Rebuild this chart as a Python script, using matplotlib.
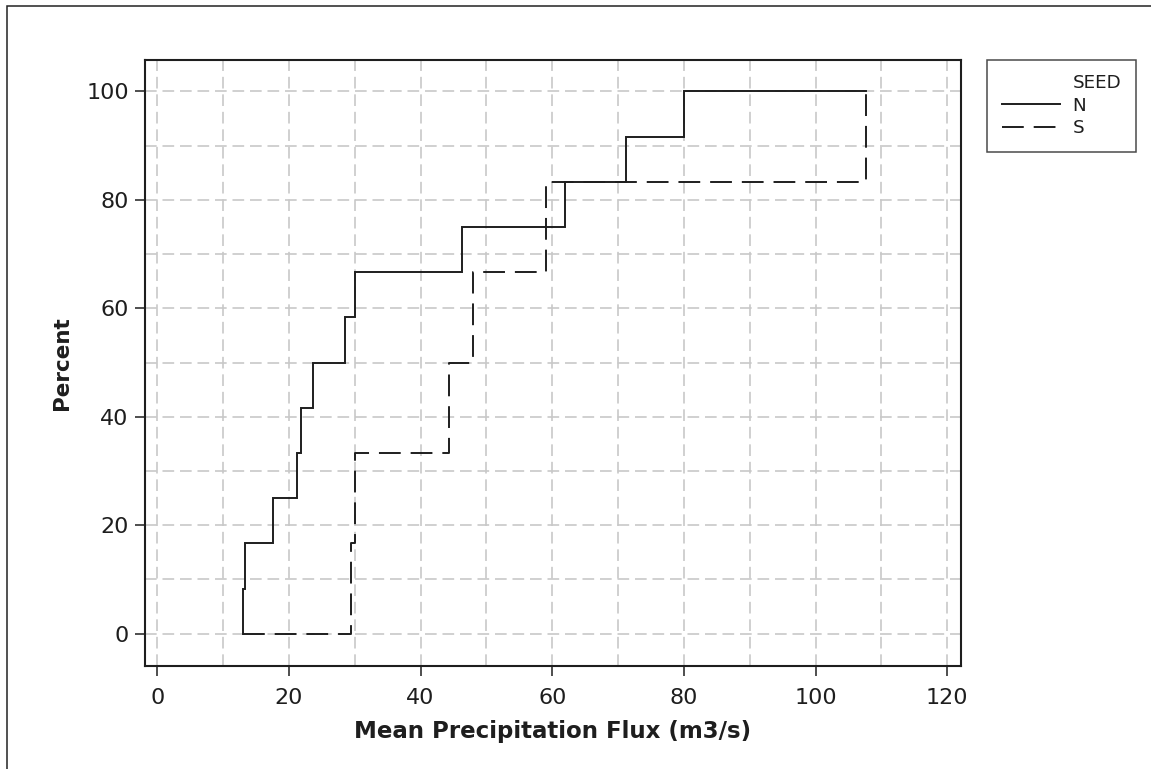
import matplotlib
matplotlib.use("Agg")
import matplotlib.pyplot as plt
from matplotlib.lines import Line2D
from matplotlib.patches import Rectangle
from matplotlib.ticker import MultipleLocator

# ---- data ----
group_names = ["N", "S"]
n_flux = [13.05, 13.35, 17.6, 21.2, 21.8, 23.7, 28.5, 30.1, 46.3, 61.9, 71.2, 80.0]
s_flux = [29.4, 30.1, 44.3, 48.0, 59.1, 107.6]
x_ticks = [0, 20, 40, 60, 80, 100, 120]
y_ticks = [0, 20, 40, 60, 80, 100]
x_label = "Mean Precipitation Flux (m3/s)"
y_label = "Percent"
legend_title = "SEED"

plt.rcParams['font.family'] = ['DejaVu Sans']

W, H = 1151, 769
fig = plt.figure(figsize=(W / 100, H / 100), dpi=100)

# outer frame (partially cropped in the reference)
fig.patches.append(Rectangle((7 / W, -0.1), 1.2, (H - 6) / H + 0.1,
                             transform=fig.transFigure, fill=False,
                             edgecolor='#222222', linewidth=1.1))

ax_l, ax_r, ax_t, ax_b = 145, 961, 60, 665.7
ax = fig.add_axes([ax_l / W, (H - ax_b) / H, (ax_r - ax_l) / W, (ax_b - ax_t) / H])

lo = min(min(n_flux), min(s_flux))
hi = max(max(n_flux), max(s_flux))


def ecdf_path(vals):
    v = sorted(vals)
    n = len(v)
    xs, ys = [lo], [0.0]
    for i, xv in enumerate(v):
        xs += [xv, xv]
        ys += [100.0 * i / n, 100.0 * (i + 1) / n]
    xs.append(hi)
    ys.append(100.0)
    return xs, ys


col = '#1e1e1e'
lw = 1.4
dash = (0, (11.2, 5.1))
xn, yn = ecdf_path(n_flux)
xs_, ys_ = ecdf_path(s_flux)
ax.plot(xn, yn, color=col, lw=lw, solid_joinstyle='miter')
ax.plot(xs_, ys_, color=col, lw=lw, linestyle=dash)

ax.set_xlim(-1.87, 122.1)
ax.set_ylim(-5.9, 105.8)
ax.set_xticks(x_ticks)
ax.set_yticks(y_ticks)
ax.xaxis.set_minor_locator(MultipleLocator(10))
ax.yaxis.set_minor_locator(MultipleLocator(10))
ax.grid(which='both', color='#c8c8c8', linestyle=(0, (7, 3.5)), linewidth=1.2)
ax.set_axisbelow(True)
ax.tick_params(which='major', direction='out', length=7.2, width=1.1,
               labelsize=16, colors=col)
ax.tick_params(axis='x', which='major', pad=8.5)
ax.tick_params(axis='y', which='major', pad=4.5)
ax.tick_params(which='minor', length=0)
for s in ax.spines.values():
    s.set_color(col)
    s.set_linewidth(1.5)

ax.set_xlabel(x_label, fontsize=16.5, fontweight='bold', color=col, labelpad=9)
ax.set_ylabel(y_label, fontsize=15.5, fontweight='bold', color=col, labelpad=10.5)

handles = [Line2D([], [], color='none'),
           Line2D([], [], color=col, lw=lw),
           Line2D([], [], color=col, lw=lw, linestyle=dash)]
labels = [legend_title] + group_names
leg = fig.legend(handles, labels, loc='upper left',
                 bbox_to_anchor=(987 / W, (H - 59.5) / H),
                 fontsize=13.2, frameon=True, fancybox=False, shadow=False,
                 borderpad=0.8, labelspacing=0.25, handlelength=3.2,
                 handletextpad=0.65, borderaxespad=0)
leg.get_frame().set_edgecolor(col)
leg.get_frame().set_linewidth(1.1)
for t in leg.get_texts():
    t.set_color(col)

fig.savefig("out.png", dpi=100)
